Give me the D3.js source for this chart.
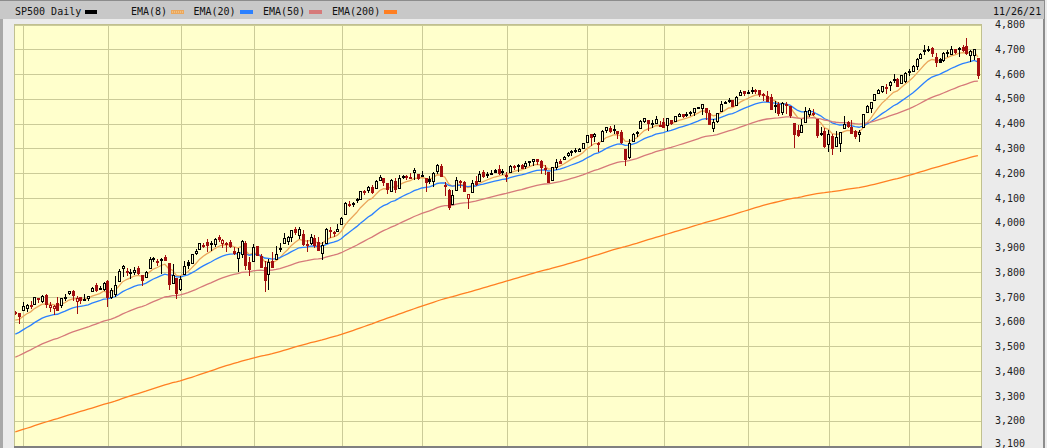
<!DOCTYPE html>
<html><head><meta charset="utf-8">
<script src="https://cdn.jsdelivr.net/npm/d3@7"></script>
<style>html,body{margin:0;padding:0;background:#ebebeb;overflow:hidden}svg{display:block}</style>
</head><body>
<svg id="c" width="1047" height="448"></svg>
<script>
const months = [
 ["2020-11",[27,30]],
 ["2020-12",[1,2,3,4,7,8,9,10,11,14,15,16,17,18,21,22,23,24,28,29,30,31]],
 ["2021-01",[4,5,6,7,8,11,12,13,14,15,19,20,21,22,25,26,27,28,29]],
 ["2021-02",[1,2,3,4,5,8,9,10,11,12,16,17,18,19,22,23,24,25,26]],
 ["2021-03",[1,2,3,4,5,8,9,10,11,12,15,16,17,18,19,22,23,24,25,26,29,30,31]],
 ["2021-04",[1,5,6,7,8,9,12,13,14,15,16,19,20,21,22,23,26,27,28,29,30]],
 ["2021-05",[3,4,5,6,7,10,11,12,13,14,17,18,19,20,21,24,25,26,27,28]],
 ["2021-06",[1,2,3,4,7,8,9,10,11,14,15,16,17,18,21,22,23,24,25,28,29,30]],
 ["2021-07",[1,2,6,7,8,9,12,13,14,15,16,19,20,21,22,23,26,27,28,29,30]],
 ["2021-08",[2,3,4,5,6,9,10,11,12,13,16,17,18,19,20,23,24,25,26,27,30,31]],
 ["2021-09",[1,2,3,7,8,9,10,13,14,15,16,17,20,21,22,23,24,27,28,29,30]],
 ["2021-10",[1,4,5,6,7,8,11,12,13,14,15,18,19,20,21,22,25,26,27,28,29]],
 ["2021-11",[1,2,3,4,5,8,9,10,11,12,15,16,17,18,19,22,23,24,26]]
];
const opens = [3639,3634,
3646,3654,3668,3671,3695,3683,3706,3659,3656,3675,3666,3696,3714,3722,3684,3698,3693,3694,3723,3750,3736,3733,
3765,3698,3712,3765,3815,3803,3802,3802,3815,3789,3782,3816,3857,3844,3852,3863,3837,3756,3778,
3731,3792,3840,3837,3878,3893,3910,3921,3916,3912,3940,3919,3916,3921,3886,3857,3874,3916,3840,
3843,3904,3864,3819,3794,3844,3852,3892,3916,3925,3943,3974,3950,3954,3913,3916,3938,3920,3879,3917,3969,3963,3967,
3993,4034,4076,4074,4090,4096,4125,4130,4142,4140,4174,4180,4159,4128,4170,4139,4185,4188,4185,4206,4198,
4192,4179,4177,4169,4210,4228,4150,4131,4075,4130,4170,4166,4098,4122,4169,4170,4206,4192,4202,4211,
4217,4207,4191,4206,4229,4234,4233,4229,4243,4248,4255,4249,4220,4205,4173,4225,4249,4257,4274,4285,4293,4291,
4301,4327,4356,4351,4321,4329,4372,4381,4380,4369,4367,4296,4265,4331,4361,4381,4410,4416,4403,4404,4395,
4407,4393,4416,4409,4429,4438,4436,4442,4446,4465,4462,4462,4441,4382,4411,4450,4484,4490,4494,4474,4514,4530,
4529,4534,4532,4535,4518,4513,4507,4475,4479,4447,4477,4470,4403,4374,4367,4407,4438,4442,4420,4362,4371,
4317,4349,4310,4320,4384,4407,4385,4368,4358,4387,4448,4464,4497,4524,4532,4546,4554,4579,4580,4563,4573,
4611,4613,4631,4663,4699,4701,4707,4670,4659,4655,4689,4679,4702,4701,4708,4712,4678,4676,4665];
const highs = [3644,3634,
3678,3671,3683,3699,3697,3708,3712,3678,3666,3698,3695,3711,3725,3727,3703,3698,3711,3704,3741,3756,3745,3760,
3770,3738,3783,3812,3827,3818,3811,3821,3824,3789,3805,3860,3861,3852,3859,3871,3837,3831,3778,
3784,3843,3848,3872,3895,3916,3918,3932,3926,3937,3950,3934,3922,3930,3903,3896,3929,3925,3861,
3915,3906,3874,3844,3852,3881,3904,3917,3960,3945,3970,3981,3984,3970,3930,3955,3949,3942,3920,3978,3982,3968,3994,
4021,4083,4086,4083,4098,4129,4132,4148,4152,4173,4191,4181,4159,4175,4180,4194,4194,4193,4202,4219,4198,
4209,4179,4188,4203,4238,4236,4162,4135,4132,4183,4172,4169,4117,4173,4189,4210,4213,4203,4213,4218,
4234,4217,4204,4233,4232,4237,4237,4250,4248,4256,4257,4252,4232,4205,4226,4256,4257,4271,4286,4292,4301,4302,
4321,4355,4356,4362,4324,4372,4387,4392,4394,4369,4375,4296,4337,4360,4370,4415,4423,4416,4415,4430,4412,
4422,4424,4416,4430,4441,4439,4445,4449,4462,4468,4480,4462,4454,4419,4444,4490,4493,4502,4496,4513,4537,4531,
4537,4546,4541,4535,4522,4530,4520,4493,4486,4487,4486,4472,4403,4395,4417,4465,4463,4457,4420,4386,4383,
4375,4356,4369,4366,4430,4412,4416,4375,4373,4440,4476,4489,4520,4541,4551,4560,4573,4599,4585,4598,4608,
4620,4635,4663,4683,4719,4715,4709,4685,4665,4688,4697,4715,4702,4709,4718,4744,4699,4703,4665];
const lows = [3629,3594,
3646,3645,3657,3671,3679,3679,3661,3645,3633,3646,3660,3689,3711,3686,3636,3676,3689,3689,3723,3723,3730,3727,
3663,3695,3705,3765,3784,3789,3777,3792,3793,3750,3780,3816,3845,3830,3797,3848,3732,3756,3694,
3726,3792,3817,3837,3875,3893,3903,3885,3890,3906,3924,3900,3885,3903,3875,3806,3860,3814,3790,
3843,3869,3819,3723,3730,3819,3852,3886,3916,3915,3924,3953,3936,3911,3887,3914,3902,3889,3854,3917,3943,3944,3967,
3993,4034,4068,4068,4083,4096,4115,4124,4121,4140,4171,4150,4118,4126,4124,4139,4182,4176,4182,4177,4175,
4188,4129,4161,4147,4202,4188,4112,4057,4075,4130,4143,4126,4061,4122,4152,4170,4183,4184,4198,4204,
4198,4198,4168,4206,4216,4208,4219,4220,4232,4234,4238,4202,4196,4164,4173,4217,4241,4257,4271,4275,4287,4288,
4301,4327,4314,4330,4290,4329,4364,4367,4362,4341,4323,4233,4262,4331,4350,4381,4405,4373,4387,4404,4390,
4385,4373,4400,4409,4429,4425,4430,4436,4436,4461,4438,4418,4398,4368,4407,4450,4482,4486,4469,4474,4514,4516,
4522,4525,4522,4513,4494,4492,4458,4446,4435,4438,4444,4428,4306,4348,4367,4407,4430,4436,4346,4355,4306,
4289,4279,4310,4290,4384,4386,4361,4342,4330,4387,4448,4447,4496,4524,4527,4524,4537,4569,4552,4563,4568,
4595,4613,4621,4663,4681,4694,4671,4631,4648,4651,4673,4679,4684,4673,4694,4682,4653,4660,4585];
const closes = [3638,3622,
3662,3669,3667,3699,3692,3702,3673,3668,3663,3647,3695,3701,3722,3709,3695,3687,3690,3703,3735,3727,3732,3756,
3701,3727,3748,3804,3825,3800,3801,3810,3796,3768,3799,3852,3853,3841,3855,3850,3751,3787,3714,
3774,3826,3830,3872,3887,3916,3911,3910,3916,3935,3933,3931,3914,3907,3877,3881,3925,3829,3811,
3902,3870,3820,3768,3842,3821,3875,3899,3939,3943,3969,3963,3974,3915,3913,3941,3911,3889,3910,3975,3971,3959,3973,
4020,4078,4074,4080,4097,4129,4128,4142,4125,4170,4185,4163,4135,4173,4135,4180,4188,4187,4183,4211,4181,
4193,4165,4168,4202,4233,4188,4152,4063,4113,4174,4163,4128,4116,4159,4156,4197,4188,4196,4201,4204,
4202,4208,4193,4230,4227,4227,4220,4239,4247,4255,4247,4224,4222,4166,4225,4246,4242,4266,4281,4291,4292,4298,
4320,4352,4344,4358,4321,4370,4385,4369,4374,4360,4327,4258,4323,4359,4367,4412,4422,4401,4401,4419,4395,
4387,4423,4403,4429,4437,4432,4437,4448,4461,4468,4480,4448,4400,4406,4442,4480,4486,4496,4470,4509,4529,4523,
4524,4537,4535,4520,4514,4493,4459,4469,4443,4481,4474,4433,4358,4354,4396,4449,4455,4443,4353,4359,4308,
4357,4300,4346,4364,4400,4391,4361,4351,4364,4438,4471,4486,4520,4536,4550,4545,4566,4575,4552,4596,4605,
4614,4631,4661,4680,4698,4702,4685,4647,4649,4683,4683,4701,4689,4705,4698,4683,4691,4701,4595];
// EMA starting values (at the first bar)
const emaPeriods = [8, 20, 50, 200];
const emaStart = [3606, 3550, 3457, 3155];
const emaColors = ["#eba75c", "#2b80ff", "#d67a7a", "#ff7f22"];
const yTicks = [4800,4700,4600,4500,4400,4300,4200,4100,4000,3900,3800,3700,3600,3500,3400,3300,3200,3100];
const gridDates = ["2020-12-01","2021-01-04","2021-02-01","2021-03-01","2021-04-01","2021-05-03","2021-06-03","2021-07-02","2021-08-02","2021-09-01","2021-10-01","2021-11-01"];
const lastDate = "11/26/21";

const dates = [];
months.forEach(([m, days]) => days.forEach(d => dates.push(m + "-" + String(d).padStart(2, "0"))));
const bars = dates.map((d, i) => ({d, i, o: opens[i], h: highs[i], l: lows[i], c: closes[i], pc: i ? closes[i-1] : opens[i]}));

const svg = d3.select("#c");
const W = 1047, H = 448;
const P = {l: 14, r: 982, t: 24, b: 446};
const x = d3.scalePoint().domain(dates).range([15.3, 977.9]);
const y = d3.scaleLinear().domain([3100, 4800]).range([445.5, 24.5]);

// frame
svg.append("rect").attr("x",0).attr("y",0).attr("width",W).attr("height",H).attr("fill","#ebebeb");
svg.append("rect").attr("x",0).attr("y",0).attr("width",3).attr("height",H).attr("fill","#a8a8a8");
svg.append("rect").attr("x",1043).attr("y",0).attr("width",2).attr("height",H).attr("fill","#8c8c8c");
svg.append("rect").attr("x",0).attr("y",1).attr("width",1044).attr("height",18).attr("fill","#c8c8c8");
svg.append("rect").attr("x",0).attr("y",0).attr("width",1045).attr("height",1).attr("fill","#8c8c8c");

// plot
svg.append("rect").attr("x",P.l).attr("y",P.t).attr("width",P.r-P.l).attr("height",P.b-P.t).attr("fill","#ffffcc");
svg.append("defs").append("clipPath").attr("id","clip").append("rect")
  .attr("x",P.l).attr("y",P.t).attr("width",P.r-P.l).attr("height",P.b-P.t);

const grid = svg.append("g").attr("shape-rendering","crispEdges");
grid.append("g").attr("transform",`translate(${P.l},0)`)
  .call(d3.axisLeft(y).tickValues(yTicks).tickSize(-(P.r-P.l)).tickFormat(""))
  .call(g => g.select(".domain").remove())
  .selectAll("line").attr("stroke","#cbcb98");
grid.append("g").attr("transform",`translate(0,${P.t})`)
  .call(d3.axisBottom(x).tickValues(gridDates).tickSize(P.b-P.t).tickFormat(""))
  .call(g => g.select(".domain").remove())
  .selectAll("line").attr("stroke","#cbcb98").attr("transform","translate(0.5,0)");

const plot = svg.append("g").attr("clip-path","url(#clip)");

// EMAs
emaPeriods.forEach((p, k) => {
  const a = 2 / (p + 1);
  const vals = [];
  closes.forEach((c, i) => vals.push(i === 0 ? emaStart[k] : c * a + vals[i-1] * (1 - a)));
  plot.append("path").datum(vals)
    .attr("fill","none").attr("stroke",emaColors[k]).attr("stroke-width",1.3)
    .attr("d", d3.line().x((v, i) => x(dates[i])).y(v => y(v)));
});

// candles
const cg = plot.append("g").attr("shape-rendering","crispEdges");
bars.forEach(b => {
  const cx = Math.round(x(b.d));
  const col = b.c < b.pc ? "#a30f0f" : "#000000";
  const hollow = b.c >= b.o;
  cg.append("line").attr("x1",cx+0.5).attr("x2",cx+0.5)
    .attr("y1",Math.round(y(b.h))).attr("y2",Math.round(y(b.l))+1).attr("stroke",col);
  const top = Math.round(y(Math.max(b.o,b.c))), bot = Math.round(y(Math.min(b.o,b.c)));
  if (hollow) {
    const hgt = Math.max(bot - top, 1);
    cg.append("rect").attr("x",cx-0.5).attr("y",top+0.5).attr("width",2).attr("height",hgt)
      .attr("fill","#ffffcc").attr("stroke",col);
  } else {
    cg.append("rect").attr("x",cx-1).attr("y",top).attr("width",3).attr("height",Math.max(bot-top,1)+1)
      .attr("fill",col);
  }
});

// plot border
svg.append("rect").attr("x",P.l+0.5).attr("y",P.t+0.5).attr("width",P.r-P.l-1).attr("height",P.b-P.t)
  .attr("fill","none").attr("stroke","#c0c090").attr("shape-rendering","crispEdges");
svg.append("rect").attr("x",P.l).attr("y",P.b).attr("width",P.r-P.l).attr("height",2).attr("fill","#808080");

// right axis labels
svg.append("g").attr("transform","translate(995,0)")
  .call(d3.axisRight(y).tickValues(yTicks).tickSize(0).tickPadding(0).tickFormat(d3.format(",")))
  .call(g => g.select(".domain").remove())
  .selectAll("text").attr("font-family","DejaVu Sans Mono").attr("font-size","10px").attr("fill","#222")
  .attr("dy", d => d === 3100 ? "0.1em" : "0.32em");

// header
const hf = {"font-family":"DejaVu Sans Mono","font-size":"10px","fill":"#111"};
function txt(s, xx) { const t = svg.append("text").attr("x",xx).attr("y",15).text(s); Object.entries(hf).forEach(([k,v]) => t.attr(k,v)); }
txt("SP500 Daily", 15);
svg.append("rect").attr("x",85).attr("y",10).attr("width",12).attr("height",4).attr("fill","#000");
const legX = [131, 193.5, 263, 332];
const swX = [171, 240, 309, 384];
emaPeriods.forEach((p, k) => {
  txt(`EMA(${p})`, legX[k]);
  svg.append("rect").attr("x",swX[k]).attr("y",10).attr("width",13).attr("height",4).attr("fill",emaColors[k]);
});
svg.append("line").attr("x1",172).attr("x2",183).attr("y1",12).attr("y2",12)
  .attr("stroke","#f7d9a8").attr("stroke-dasharray","1,1");
txt(lastDate, 993);
</script>
</body></html>
